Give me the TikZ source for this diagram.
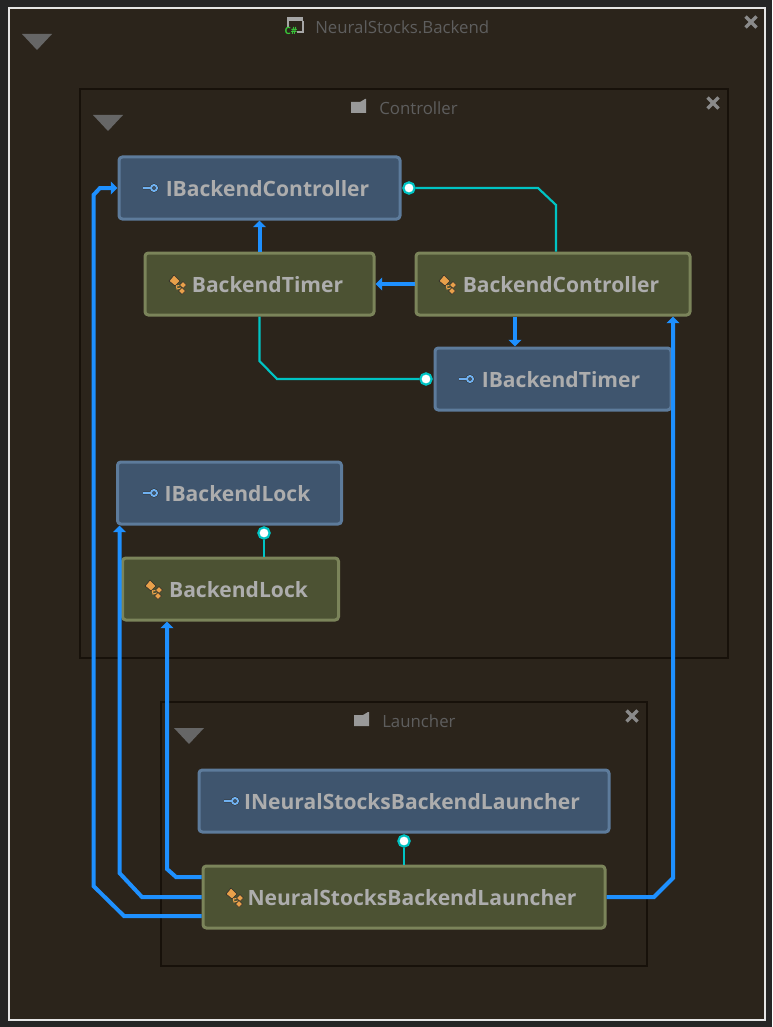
\documentclass[tikz,border=0pt]{standalone}
\usepackage{fontspec}
\setmainfont{Open Sans}
\usetikzlibrary{arrows.meta}
\definecolor{pagebg}{HTML}{252525}
\definecolor{groupbg}{HTML}{2B241B}
\definecolor{groupline}{HTML}{17110A}
\definecolor{ifacefill}{HTML}{3F556E}
\definecolor{ifaceline}{HTML}{5D7B9B}
\definecolor{classfill}{HTML}{4C5233}
\definecolor{classline}{HTML}{7B845A}
\definecolor{boxtext}{HTML}{ADADAD}
\definecolor{grouptext}{HTML}{5E5E5E}
\definecolor{linkblue}{HTML}{1E90FF}
\definecolor{linkcyan}{HTML}{00C4C4}
\definecolor{iconorange}{HTML}{E8A04A}
\definecolor{iconblue}{HTML}{6FB0F0}
\definecolor{icondark}{HTML}{2E2E2A}
\definecolor{shutgray}{HTML}{8A8A8A}
\definecolor{foldgray}{HTML}{666666}
\begin{document}
\begin{tikzpicture}[x=.75pt,y=-.75pt,
 group/.style={draw=groupline,fill=groupbg,line width=1.5pt},
 grouplabel/.style={text=grouptext,font=\fontsize{12.6}{15}\selectfont,inner sep=0pt},
 ifacebox/.style={draw=ifaceline,fill=ifacefill,line width=2.25pt,rounded corners=2.5pt,
   minimum height=46.5pt,inner sep=0pt,text=boxtext,text height=13.5pt,font=\fontsize{15.8}{18}\selectfont\bfseries},
 classbox/.style={ifacebox,draw=classline,fill=classfill},
 uses/.style={draw=linkblue,line width=3pt,-{Triangle[length=5pt,width=9.5pt]}},
 impl/.style={draw=linkcyan,line width=1.6pt},
 lolli/.style={circle,draw=linkcyan,fill=white,line width=1.6pt,inner sep=0pt,minimum size=8.5pt},
 shut/.pic={\draw[shutgray,line width=2.6pt] (-5.5,-5.5)--(5.5,5.5) (-5.5,5.5)--(5.5,-5.5);},
 fold/.pic={\fill[foldgray] (-15,-8) -- (15,-8) -- (0,8) -- cycle;},
 keyicon/.pic={\draw[icondark,line width=2.2pt] (-7,0)--(1,0) (4,0) circle (3);
   \draw[iconblue,line width=1.1pt] (-7,0)--(1,0);
   \draw[iconblue,line width=1.5pt] (4,0) circle (3);},
 classicon/.pic={\begin{scope}[draw=icondark,line width=.5pt,fill=iconorange]
   \draw[iconorange,line width=.8pt] (-2,-1)--(-1,4)--(3,3) (-1,1)--(3,0);
   \filldraw (-9,-4)--(-4,-10)--(2,-4)--(-3,1)--cycle;
   \filldraw (5,-3.5)--(8.5,0)--(5,3.5)--(1.5,0)--cycle;
   \filldraw (4,2.5)--(7.5,6)--(4,9.5)--(0.5,6)--cycle;
   \end{scope}},
 foldericon/.pic={\fill[gray!80!white] (0,3)--(9,3)--(14,0)--(15,0)--(15,14)--(0,14)--cycle;}]
 \useasboundingbox (0,0) rectangle (772,1027);
 \fill[pagebg] (0,0) rectangle (772,1027);
 \draw[white!90!black,fill=groupbg,line width=1.5pt] (9,8) rectangle (765,1020);
 \draw[group] (80,89) rectangle (728,658);
 \draw[group] (161,702) rectangle (647,966);
 % group titles
 \node[grouplabel,anchor=west] (tbackend) at (315,27) {NeuralStocks.Backend};
 \node[grouplabel,anchor=west] (tcontroller) at (379,108) {Controller};
 \node[grouplabel,anchor=west] (tlauncher) at (382,721) {Launcher};
 \fill[gray!70] (287,17) rectangle (303,21);
 \draw[gray!70,line width=1pt] (288,21)--(288,27) (303,21)--(303,32)--(297,32);
 \node[text=green!55!gray,font=\fontsize{7.5}{8}\selectfont\bfseries,inner sep=0pt] (csharp) at (291,31) {C\#};
 \pic at (351,99) {foldericon};
 \pic at (354,712) {foldericon};
 \pic at (37,42) {fold};
 \pic at (108,123) {fold};
 \pic at (189,736) {fold};
 \pic at (751,22) {shut};
 \pic at (713,103) {shut};
 \pic at (632,716) {shut};
 % boxes
 \node[ifacebox,minimum width=210.75pt] (ibc) at (259.5,188) {\hspace*{12pt}IBackendController};
 \node[classbox,minimum width=171.75pt] (bt) at (259.5,284) {\hspace*{12pt}BackendTimer};
 \node[classbox,minimum width=205.5pt] (bc) at (553,284) {\hspace*{12pt}BackendController};
 \node[ifacebox,minimum width=177pt] (ibt) at (553,379) {\hspace*{12pt}IBackendTimer};
 \node[ifacebox,minimum width=168pt] (ibl) at (229.5,493) {\hspace*{12pt}IBackendLock};
 \node[classbox,minimum width=162pt] (bl) at (230.5,589) {\hspace*{12pt}BackendLock};
 \node[ifacebox,minimum width=307.5pt] (inl) at (404,801) {\hspace*{12pt}INeuralStocksBackendLauncher};
 \node[classbox,minimum width=301.5pt] (nl) at (404,897) {\hspace*{12pt}NeuralStocksBackendLauncher};
 \pic at (150,188) {keyicon};
 \pic at (466,379) {keyicon};
 \pic at (150,493) {keyicon};
 \pic at (231,801) {keyicon};
 \pic at (178,285) {classicon};
 \pic at (448,285) {classicon};
 \pic at (154,590) {classicon};
 \pic at (235,898) {classicon};
 % implementation links
 \node[lolli] (libc) at (409,188) {};
 \node[lolli] (libt) at (426,379) {};
 \node[lolli] (libl) at (264,533) {};
 \node[lolli] (linl) at (404,841) {};
 \coordinate (k1) at (556,205);
 \coordinate (k2) at (538,188);
 \coordinate (k3) at (259.5,361);
 \coordinate (k4) at (277,379);
 \draw[impl] (k1 |- bc.north)--(k1)--(k2)--(libc);
 \draw[impl] (bt.south)--(k3)--(k4)--(libt);
 \draw[impl] (libl |- bl.north)--(libl);
 \draw[impl] (linl)--(nl.north);
 % usage links
 \coordinate (m1) at (515,330);
 \draw[uses] (bt.north)--(ibc.south);
 \draw[uses] (bc.west)--(bt.east);
 \draw[uses] (m1 |- bc.south)--(m1 |- ibt.north);
 \coordinate (a1) at (124,916);
 \coordinate (a2) at (93.5,886);
 \coordinate (a3) at (93.5,195);
 \coordinate (a4) at (100,188);
 \draw[uses] (nl.west |- a1)--(a1)--(a2)--(a3)--(a4)--(ibc.west);
 \coordinate (b1) at (142,897);
 \coordinate (b2) at (119.5,873);
 \draw[uses] (nl.west |- b1)--(b1)--(b2)--(b2 |- ibl.south);
 \coordinate (c1) at (176,877);
 \coordinate (c2) at (167,869);
 \draw[uses] (nl.west |- c1)--(c1)--(c2)--(c2 |- bl.south);
 \coordinate (d1) at (654,897);
 \coordinate (d2) at (673,878);
 \draw[uses] (nl.east)--(d1)--(d2)--(d2 |- bc.south);
\end{tikzpicture}
\end{document}
